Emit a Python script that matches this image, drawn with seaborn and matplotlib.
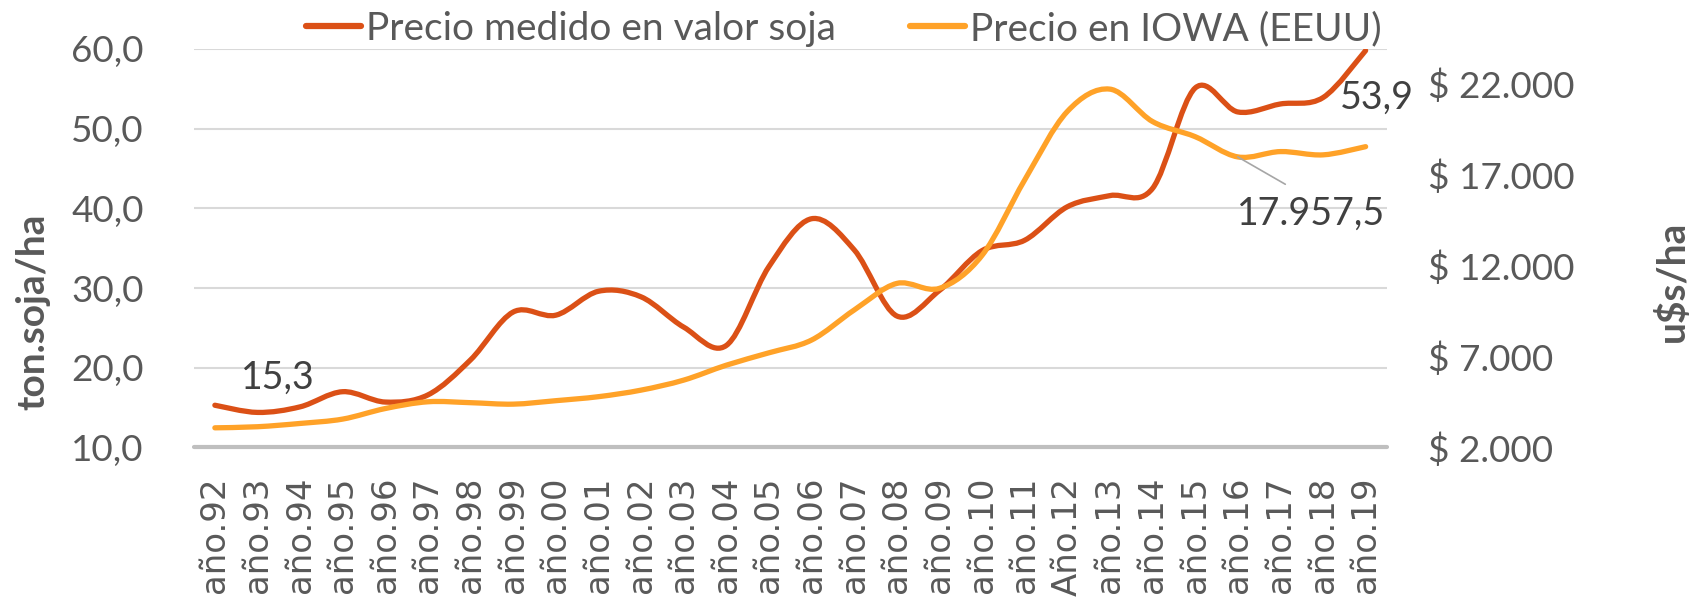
import numpy as np
import matplotlib
matplotlib.use("Agg")
import matplotlib.pyplot as plt
import seaborn as sns
from matplotlib.path import Path
from matplotlib.patches import PathPatch
from matplotlib.lines import Line2D

# Data
years = ["año.92", "año.93", "año.94", "año.95", "año.96", "año.97", "año.98",
         "año.99", "año.00", "año.01", "año.02", "año.03", "año.04", "año.05",
         "año.06", "año.07", "año.08", "año.09", "año.10", "año.11", "Año.12",
         "año.13", "año.14", "año.15", "año.16", "año.17", "año.18", "año.19"]
precio_soja = [15.3, 14.4, 15.1, 17.0, 15.7, 16.6, 21.0, 27.0, 26.6, 29.6,
               28.9, 25.1, 22.8, 32.7, 38.7, 34.8, 26.5, 29.7, 34.7, 36.0,
               40.2, 41.6, 42.5, 55.1, 52.1, 53.1, 53.9, 59.8]
precio_iowa = [3080, 3140, 3320, 3560, 4140, 4510, 4460, 4380, 4570, 4790,
               5150, 5700, 6520, 7200, 7900, 9550, 11010, 10740, 12550, 16690,
               20450, 21680, 19900, 19070, 17957.5, 18250, 18070, 18520]
left_ticks = [10, 20, 30, 40, 50, 60]
right_ticks = [2000, 7000, 12000, 17000, 22000]
series_names = ["Precio medido en valor soja", "Precio en IOWA (EEUU)"]

RED = "#DB5016"
ORANGE = "#FFA228"
GREY = "#595959"
DARK = "#404040"


def smooth_path(x, y):
    # Excel-like smoothed line: cubic Bezier through every point
    x = np.asarray(x, float)
    y = np.asarray(y, float)
    px = np.concatenate([[x[0]], x, [x[-1]]])
    py = np.concatenate([[y[0]], y, [y[-1]]])
    verts = [(x[0], y[0])]
    codes = [Path.MOVETO]
    for i in range(len(x) - 1):
        c1 = (px[i + 1] + (px[i + 2] - px[i]) / 6, py[i + 1] + (py[i + 2] - py[i]) / 6)
        c2 = (px[i + 2] - (px[i + 3] - px[i + 1]) / 6, py[i + 2] - (py[i + 3] - py[i + 1]) / 6)
        verts += [c1, c2, (px[i + 2], py[i + 2])]
        codes += [Path.CURVE4] * 3
    return Path(verts, codes)


sns.set_style("white")
plt.rcParams["font.family"] = ["Lato", "DejaVu Sans"]

fig = plt.figure(figsize=(16.92, 5.98), dpi=100)
ax = fig.add_axes([0.1144, 0.2517, 0.7053, 0.6664])
ax2 = ax.twinx()

xpos = np.arange(len(years))
lw = 3.8

sns.lineplot(x=xpos, y=precio_soja, ax=ax, color=RED, lw=lw)
sns.lineplot(x=xpos, y=precio_iowa, ax=ax2, color=ORANGE, lw=lw)
# replace straight segments with smoothed curves
for a, vals, col in [(ax, precio_soja, RED), (ax2, precio_iowa, ORANGE)]:
    a.lines[-1].set_visible(False)
    a.add_patch(PathPatch(smooth_path(xpos, vals), facecolor="none", edgecolor=col,
                          lw=lw, capstyle="round", joinstyle="round", zorder=3))

ax.set_xlim(-0.5, len(years) - 0.5)
ax.set_ylim(10, 60)
ax2.set_ylim(2000, 23885)

ax.set_yticks(left_ticks)
ax.set_yticklabels([f"{v:.1f}".replace(".", ",") for v in left_ticks])
ax2.set_yticks(right_ticks)
ax2.set_yticklabels([f"$ {v:,.0f}".replace(",", ".") for v in right_ticks])

ax.set_xticks(xpos)
ax.set_xticklabels(years, rotation=90, family="DejaVu Sans", fontsize=24.5, color=GREY)
ax.tick_params(axis="x", length=0, pad=21)
ax.tick_params(axis="y", length=0, pad=36, labelsize=26.6, labelcolor=GREY)
ax2.tick_params(axis="y", length=0, pad=29.5, labelsize=26.6, labelcolor=GREY)
ax2.tick_params(axis="x", length=0)

ax.grid(axis="y", color="#D9D9D9", lw=1.5)
ax.grid(axis="x", visible=False)
ax2.grid(False)
for a in (ax, ax2):
    for s in ["top", "left", "right", "bottom"]:
        a.spines[s].set_visible(False)
ax.axhline(10, color="#BFBFBF", lw=3, zorder=2, clip_on=False)
ax.set_xlabel("")
ax.set_ylabel("")
ax2.set_ylabel("")

# data labels
ax.annotate("15,3", (xpos[0], precio_soja[0]), xytext=(45, 19.5), textcoords="offset points",
            ha="center", va="center", fontsize=27, color=DARK)
ax.annotate("53,9", (xpos[26], precio_soja[26]), xytext=(39, 0), textcoords="offset points",
            ha="center", va="center", fontsize=27, color=DARK)
ax2.annotate("17.957,5", (xpos[24], precio_iowa[24]), xytext=(53, -41), textcoords="offset points",
             ha="center", va="center", fontsize=27, color=DARK,
             arrowprops=dict(arrowstyle="-", color="#A6A6A6", lw=1.2, shrinkA=12, shrinkB=0,
                             relpos=(0.46, 1.0)))

# axis titles
fig.text(32.5 / 1692, 1 - 311.5 / 598, "ton.soja/ha", rotation=90, ha="center", va="center",
         fontsize=28, fontweight="bold", color=GREY)
fig.text(1672 / 1692, 1 - 281 / 598, "u$s/ha", rotation=90, ha="center", va="center",
         fontsize=28, fontweight="bold", color=GREY)

handles = [Line2D([], [], color=RED, lw=4.5, solid_capstyle="round"),
           Line2D([], [], color=ORANGE, lw=4.5, solid_capstyle="round")]
leg = fig.legend(handles, series_names, loc="center", bbox_to_anchor=(0.4988, 1 - 29 / 598),
                 ncol=2, frameon=False, fontsize=28, handlelength=1.41, handletextpad=0.13,
                 columnspacing=1.9, borderpad=0, borderaxespad=0)
for t in leg.get_texts():
    t.set_color(GREY)

fig.savefig("out.png", dpi=100)
